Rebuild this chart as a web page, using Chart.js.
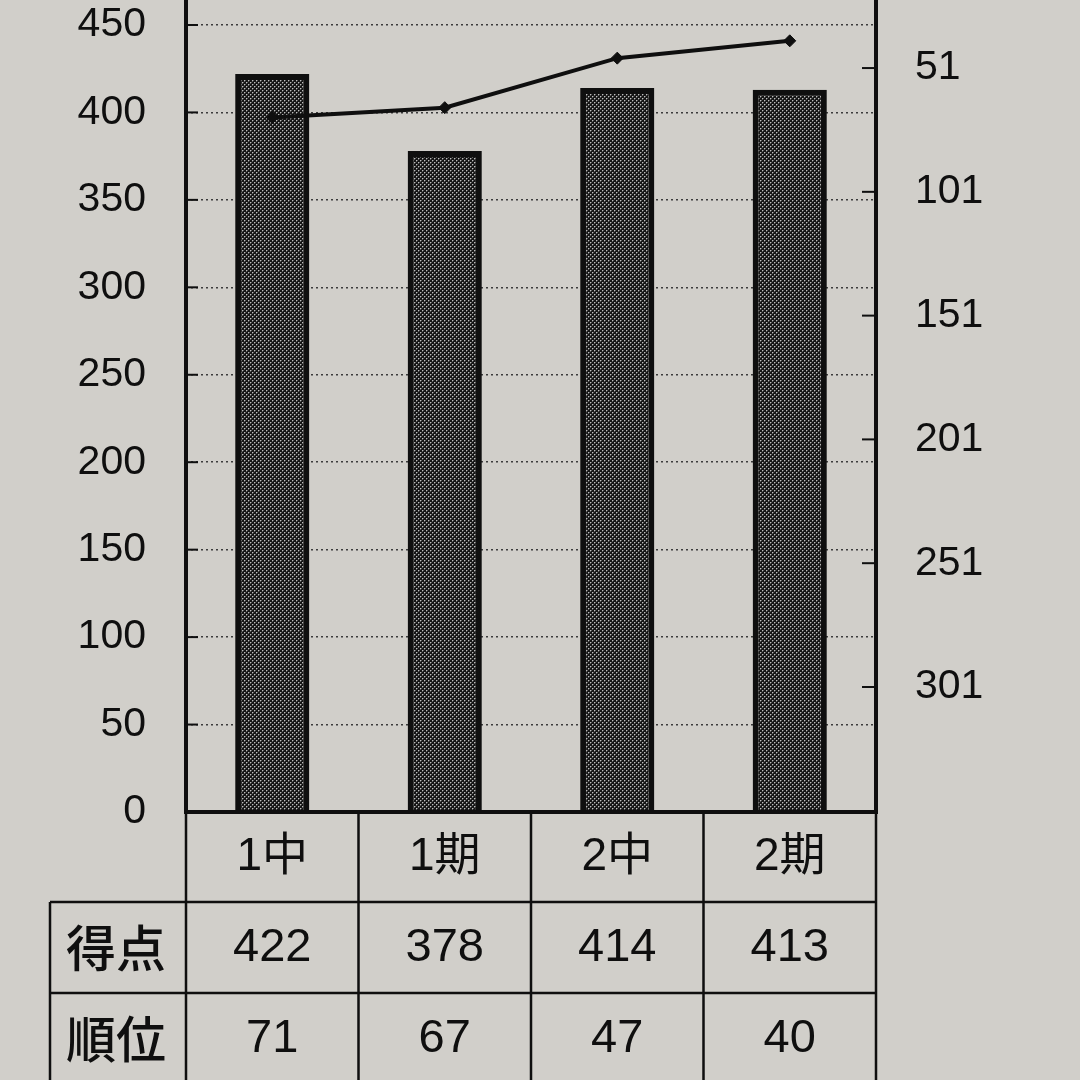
<!DOCTYPE html>
<html><head><meta charset="utf-8">
<script src="https://cdn.jsdelivr.net/npm/chart.js@4.4.1/dist/chart.umd.min.js"></script>
<style>html,body{margin:0;padding:0;background:#d1cfca;overflow:hidden;} #wrap{width:1080px;height:1080px;}</style>
</head><body><div id="wrap"><canvas id="c" width="1080" height="1080"></canvas></div>
<script>
const categories = ['1中', '1期', '2中', '2期'];
const scores = [422, 378, 414, 413];
const ranks = [71, 67, 47, 40];
const scoreTicks = [0, 50, 100, 150, 200, 250, 300, 350, 400, 450];
const rankTicks = [51, 101, 151, 201, 251, 301];
const rowHeaders = ['得点', '順位'];

const PAPER = '#d1cfca';
const INK = '#0f0f0f';
const FONT = '"Liberation Sans", "Noto Sans CJK JP", sans-serif';

function makePattern() {
  const p = document.createElement('canvas');
  p.width = 4; p.height = 4;
  const g = p.getContext('2d');
  g.fillStyle = '#161616'; g.fillRect(0, 0, 4, 4);
  g.fillStyle = '#5a5a5a';
  g.fillRect(1, 0, 1, 1); g.fillRect(0, 1, 1, 1); g.fillRect(3, 2, 1, 1); g.fillRect(2, 3, 1, 1);
  g.fillStyle = '#bdbdbd';
  g.fillRect(0, 0, 1, 1); g.fillRect(2, 2, 1, 1);
  return g.createPattern(p, 'repeat');
}
const ctx = document.getElementById('c').getContext('2d');
const barFill = makePattern();

const paperPlugin = {
  id: 'paper',
  beforeDraw(chart) {
    const c = chart.ctx;
    c.save(); c.fillStyle = PAPER; c.fillRect(0, 0, chart.width, chart.height); c.restore();
  }
};

const framePlugin = {
  id: 'frame',
  afterDraw(chart) {
    const c = chart.ctx;
    const a = chart.chartArea;
    const x = chart.scales.x, y = chart.scales.y, y2 = chart.scales.y2;
    const H = chart.height;
    c.save();
    c.strokeStyle = INK;
    // inward tick marks
    c.lineWidth = 2;
    scoreTicks.forEach(v => {
      const py = y.getPixelForValue(v);
      c.beginPath(); c.moveTo(a.left, py); c.lineTo(a.left + 12, py); c.stroke();
    });
    rankTicks.forEach(v => {
      const py = y2.getPixelForValue(v);
      c.beginPath(); c.moveTo(a.right - 14, py); c.lineTo(a.right, py); c.stroke();
    });
    // axis frame
    c.lineWidth = 4;
    c.beginPath();
    c.moveTo(a.left, 0); c.lineTo(a.left, a.bottom);
    c.moveTo(a.right, 0); c.lineTo(a.right, a.bottom);
    c.moveTo(a.left - 2, a.bottom); c.lineTo(a.right + 2, a.bottom);
    c.stroke();
    // data table
    const n = categories.length;
    const colW = (a.right - a.left) / n;
    const r0 = a.bottom, r1 = a.bottom + 90, r2 = a.bottom + 181, r3 = a.bottom + 272;
    const hdrLeft = 50;
    c.lineWidth = 2.5;
    c.beginPath();
    for (let i = 0; i <= n; i++) {
      const bx = a.left + i * colW;
      c.moveTo(bx, r0); c.lineTo(bx, H);
    }
    c.moveTo(hdrLeft, r1); c.lineTo(hdrLeft, H);
    c.moveTo(hdrLeft, r1); c.lineTo(a.right, r1);
    c.moveTo(hdrLeft, r2); c.lineTo(a.right, r2);
    c.stroke();
    c.fillStyle = INK;
    c.textAlign = 'center';
    c.textBaseline = 'middle';
    c.font = '46px ' + FONT;
    categories.forEach((cat, i) => {
      c.fillText(cat, x.getPixelForValue(i), (r0 + r1) / 2);
    });
    c.font = '47px ' + FONT;
    scores.forEach((v, i) => c.fillText(String(v), x.getPixelForValue(i), (r1 + r2) / 2 + 1));
    ranks.forEach((v, i) => c.fillText(String(v), x.getPixelForValue(i), (r2 + r3) / 2 + 1));
    c.font = '500 50px "Noto Sans CJK JP", sans-serif';
    const hx = (hdrLeft + a.left) / 2 - 2;
    c.fillText(rowHeaders[0], hx, (r1 + r2) / 2);
    c.fillText(rowHeaders[1], hx, (r2 + r3) / 2);
    c.restore();
  }
};

function fitY(width) {
  return s => { s.width = width; s.paddingTop = 0; s.paddingBottom = 0; };
}

new Chart(ctx, {
  data: {
    labels: categories,
    datasets: [
      {
        type: 'line', label: '順位', data: ranks, yAxisID: 'y2', order: 0,
        borderColor: INK, borderWidth: 4, tension: 0,
        pointStyle: 'rectRot', pointRadius: 6, pointBackgroundColor: INK, pointBorderColor: INK, pointBorderWidth: 1
      },
      {
        type: 'bar', label: '得点', data: scores, yAxisID: 'y', order: 1,
        backgroundColor: barFill, borderColor: INK, borderWidth: 6,
        categoryPercentage: 1, barPercentage: 0.43
      }
    ]
  },
  options: {
    responsive: false,
    animation: false,
    events: [],
    layout: { padding: { top: 22, bottom: 268, left: 0, right: 0 } },
    plugins: { legend: { display: false }, tooltip: { enabled: false } },
    scales: {
      x: { type: 'category', display: false, offset: true },
      y: {
        position: 'left', min: 0, max: 451.7,
        afterBuildTicks: s => { s.ticks = scoreTicks.map(v => ({ value: v })); },
        afterFit: fitY(186),
        grid: { color: '#3c3c3c', lineWidth: 1.5, drawTicks: false },
        border: { display: false, dash: [2, 3] },
        ticks: { color: INK, padding: 40, font: { family: FONT, size: 41, lineHeight: 1 } }
      },
      y2: {
        position: 'right', reverse: true, min: 32.4, max: 351.5,
        afterBuildTicks: s => { s.ticks = rankTicks.map(v => ({ value: v })); },
        afterFit: fitY(204),
        grid: { display: false, drawTicks: false },
        border: { display: false },
        ticks: { color: INK, padding: 39, font: { family: FONT, size: 41, lineHeight: 1 } }
      }
    }
  },
  plugins: [paperPlugin, framePlugin]
});
</script>
</body></html>
